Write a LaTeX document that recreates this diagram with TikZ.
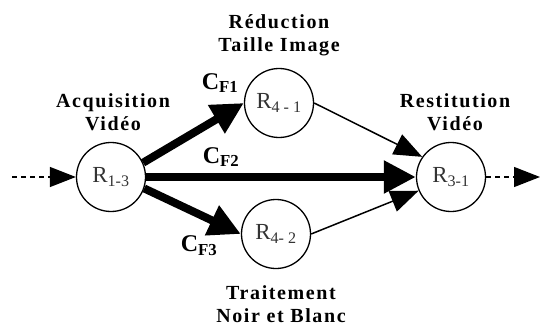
\documentclass[tikz,border=0pt]{standalone}
\usepackage{fontspec}
\setmainfont{Liberation Serif}
\newfontfamily\labelfont[LetterSpace=8]{Liberation Serif}
\usetikzlibrary{arrows.meta}
\begin{document}
\begin{tikzpicture}[x=1pt,y=-1pt,
  proc/.style={draw,circle,line width=1.3pt,minimum size=69pt,inner sep=0pt,
    text=black!80,font=\fontsize{23}{23}\selectfont},
  title/.style={align=center,font=\labelfont\bfseries\fontsize{20}{23}\selectfont},
  flowlbl/.style={font=\bfseries\fontsize{24}{24}\selectfont,inner sep=0pt},
  heavy/.style={line width=8pt,-{Triangle[length=32pt,width=31pt]}},
  light/.style={line width=1.5pt,-{Triangle[length=28pt,width=22pt]}},
  io/.style={line width=1.3pt,dash pattern=on 5pt off 4pt,-{Triangle[length=26pt,width=20pt]}}]
\useasboundingbox (0,0) rectangle (540,326);

% process nodes
\node[proc] (r13) at (111,177) {R\textsubscript{1-3}};
\node[proc] (r41) at (279,103) {R\textsubscript{4 - 1}};
\node[proc] (r42) at (276,234) {R\textsubscript{4- 2}};
\node[proc] (r31) at (451,177) {R\textsubscript{3-1}};

% titles
\node[title] (t13) at (113,112) {Acquisition\\Vidéo};
\node[title] (t41) at (279,35) {Réduction\\Taille Image};
\node[title] (t42) at (281,304) {Traitement\\Noir et Blanc};
\node[title] (t31) at (455,112) {Restitution\\Vidéo};

% open ends
\coordinate (src) at (12,177);
\coordinate (dst) at (540,177);

% connectors
\draw[io] (src) -- (r13.west);
\draw[io] (r31.east) -- (dst);
\draw[heavy] (r13.24) -- (r41.west);
\draw[heavy] (r13.east) -- (r31.west);
\draw[heavy] (r13.-19) -- (r42.west);
\draw[light] (r41.east) -- (r31.145);
\draw[light] (r42.east) -- (r31.203);

% flow labels
\node[flowlbl] (cf1) at (220,83) {C\textsubscript{F1}};
\node[flowlbl] (cf2) at (221,157) {C\textsubscript{F2}};
\node[flowlbl] (cf3) at (199,246) {C\textsubscript{F3}};
\end{tikzpicture}
\end{document}
